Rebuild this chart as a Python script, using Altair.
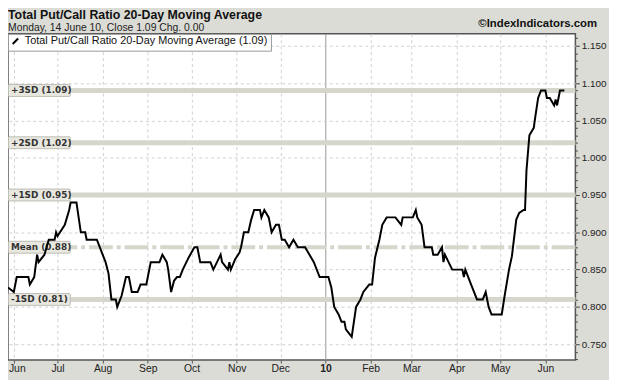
import altair as alt
import pandas as pd

# ---------------- data ----------------
dates = [
    "2009-05-28", "2009-06-01", "2009-06-03", "2009-06-11", "2009-06-12", "2009-06-15", "2009-06-17", "2009-06-18", "2009-06-22", "2009-06-25",
    "2009-06-29", "2009-06-30", "2009-07-01", "2009-07-06", "2009-07-09", "2009-07-10", "2009-07-14", "2009-07-17", "2009-07-20", "2009-07-21",
    "2009-07-28", "2009-07-30", "2009-08-03", "2009-08-05", "2009-08-07", "2009-08-10", "2009-08-11", "2009-08-14", "2009-08-17", "2009-08-19",
    "2009-08-21", "2009-08-25", "2009-08-27", "2009-08-31", "2009-09-03", "2009-09-09", "2009-09-11", "2009-09-14", "2009-09-15", "2009-09-17",
    "2009-09-19", "2009-09-21", "2009-09-23", "2009-09-25", "2009-09-29", "2009-10-03", "2009-10-05", "2009-10-07", "2009-10-14", "2009-10-16",
    "2009-10-21", "2009-10-22", "2009-10-26", "2009-10-27", "2009-10-28", "2009-10-31", "2009-11-03", "2009-11-04", "2009-11-06", "2009-11-09",
    "2009-11-11", "2009-11-13", "2009-11-17", "2009-11-18", "2009-11-20", "2009-11-23", "2009-11-25", "2009-11-28", "2009-11-30", "2009-12-02",
    "2009-12-04", "2009-12-07", "2009-12-10", "2009-12-13", "2009-12-18", "2009-12-21", "2009-12-24", "2009-12-28", "2010-01-03", "2010-01-05",
    "2010-01-07", "2010-01-10", "2010-01-12", "2010-01-14", "2010-01-15", "2010-01-19", "2010-01-22", "2010-01-25", "2010-01-27", "2010-01-31",
    "2010-02-02", "2010-02-04", "2010-02-07", "2010-02-09", "2010-02-12", "2010-02-18", "2010-02-22", "2010-02-23", "2010-03-02", "2010-03-04",
    "2010-03-05", "2010-03-08", "2010-03-10", "2010-03-15", "2010-03-16", "2010-03-19", "2010-03-22", "2010-03-23", "2010-03-24", "2010-03-29",
    "2010-04-05", "2010-04-06", "2010-04-07", "2010-04-11", "2010-04-15", "2010-04-19", "2010-04-21", "2010-04-22", "2010-04-23", "2010-04-25",
    "2010-05-02", "2010-05-04", "2010-05-07", "2010-05-09", "2010-05-12", "2010-05-14", "2010-05-17", "2010-05-18", "2010-05-19", "2010-05-21",
    "2010-05-24", "2010-05-25", "2010-05-26", "2010-05-27", "2010-05-29", "2010-06-01", "2010-06-02", "2010-06-04", "2010-06-07", "2010-06-08",
    "2010-06-09", "2010-06-10", "2010-06-11", "2010-06-14",
]
values = [
    0.826, 0.82, 0.84, 0.84, 0.83, 0.84, 0.87, 0.86, 0.87, 0.89,
    0.89, 0.90, 0.895, 0.91, 0.93, 0.94, 0.94, 0.90, 0.90, 0.89,
    0.89, 0.88, 0.86, 0.845, 0.81, 0.81, 0.80, 0.815, 0.84, 0.84,
    0.82, 0.82, 0.83, 0.83, 0.86, 0.86, 0.87, 0.86, 0.85, 0.82,
    0.835, 0.84, 0.84, 0.85, 0.866, 0.88, 0.88, 0.86, 0.86, 0.85,
    0.87, 0.86, 0.85, 0.86, 0.85, 0.864, 0.873, 0.88, 0.90, 0.90,
    0.917, 0.93, 0.93, 0.92, 0.93, 0.92, 0.90, 0.91, 0.91, 0.89,
    0.89, 0.88, 0.89, 0.88, 0.88, 0.87, 0.86, 0.84, 0.84, 0.826,
    0.80, 0.79, 0.78, 0.78, 0.77, 0.76, 0.80, 0.81, 0.82, 0.83,
    0.83, 0.866, 0.89, 0.91, 0.92, 0.92, 0.91, 0.92, 0.92, 0.93,
    0.92, 0.91, 0.88, 0.88, 0.87, 0.87, 0.88, 0.86, 0.87, 0.85,
    0.85, 0.84, 0.85, 0.83, 0.81, 0.81, 0.82, 0.81, 0.80, 0.79,
    0.79, 0.815, 0.85, 0.868, 0.917, 0.926, 0.93, 0.93, 0.983, 1.03,
    1.04, 1.054, 1.067, 1.08, 1.09, 1.09, 1.08, 1.08, 1.07, 1.078,
    1.07, 1.08, 1.09, 1.09,
]
series_name = "Total Put/Call Ratio 20-Day Moving Average (1.09)"

band_values = [1.09, 1.02, 0.95, 0.81]
mean_value = [0.88]
label_values = [1.09, 1.02, 0.95, 0.88, 0.81]
label_texts = ["+3SD (1.09)", "+2SD (1.02)", "+1SD (0.95)", "Mean (0.88)", "-1SD (0.81)"]

title_text = "Total Put/Call Ratio 20-Day Moving Average"
subtitle_text = "Monday, 14 June 10, Close 1.09  Chg. 0.00"
credit_text = "\u00a9IndexIndicators.com"

y_ticks = [round(0.73 + 0.01 * i, 2) for i in range(44)]
y_domain = [0.7288, 1.1659]
month_ticks = [(2009, m) for m in range(6, 13)] + [(2010, m) for m in range(1, 7)]

# ---------------- chart ----------------
W, H = 574, 330
FONT = "Liberation Sans"

line_df = pd.DataFrame({"date": dates, "value": values, "series": series_name})
band_df = pd.DataFrame({"value": band_values})
mean_df = pd.DataFrame({"value": mean_value})
label_df = pd.DataFrame({"value": label_values, "label": label_texts})
one = pd.DataFrame({"k": [0]})

x_scale = alt.Scale(
    type="utc",
    domain=[alt.DateTime(year=2009, month=5, date=28, utc=True),
            alt.DateTime(year=2010, month=6, date=21, hours=14, utc=True)],
)
y_scale = alt.Scale(domain=y_domain, zero=False, nice=False)

is_jan = "utcmonth(datum.value) == 0"
is_first = "utcyear(datum.value) == 2009 && utcmonth(datum.value) == 5"
is_major = "round(datum.value * 100) % 5 == 0"

x_axis = alt.Axis(
    values=[alt.DateTime(year=y, month=m, date=1, utc=True) for y, m in month_ticks],
    labelExpr="utcmonth(datum.value) == 0 ? utcFormat(datum.value, '%y') : utcFormat(datum.value, '%b')",
    labelFontWeight={"condition": {"test": is_jan, "value": "bold"}, "value": "normal"},
    labelOffset={"condition": {"test": is_first, "value": 3}, "value": 0},
    gridDash={"condition": {"test": is_jan, "value": []}, "value": [3, 3]},
    gridColor={"condition": {"test": is_jan, "value": "#9a9a9a"}, "value": "#cfcfcf"},
    grid=True, domain=False, tickSize=3, tickColor="#555555",
    labelFont=FONT, labelFontSize=10.5, labelColor="#222222", labelPadding=1,
    labelFlush=False, labelOverlap=False, title=None,
)
y_axis = alt.Axis(
    orient="right", values=y_ticks,
    labelExpr=f"{is_major} ? format(datum.value, '.3f') : ''",
    tickSize={"condition": {"test": is_major, "value": 4}, "value": 2},
    gridOpacity={"condition": {"test": is_major, "value": 1}, "value": 0},
    grid=True, gridDash=[3, 3], gridColor="#cfcfcf",
    domain=False, tickColor="#444444",
    labelFont=FONT, labelFontSize=10, labelColor="#222222", labelPadding=2,
    labelOverlap=False, title=None,
)


def yenc():
    return alt.Y("value:Q", scale=y_scale, axis=y_axis)


bands = alt.Chart(band_df).mark_rule(color="#d6d6cc", strokeWidth=5).encode(y=yenc())
mean_line = alt.Chart(mean_df).mark_rule(
    color="#d6d6cc", strokeWidth=4, strokeDash=[24, 4, 4, 4]
).encode(y=yenc())

box = alt.Chart(label_df).mark_rect(
    fill="#e8e8e0", stroke="#bdbdb5", strokeWidth=1, yOffset=-6, y2Offset=6, cornerRadius=1
).encode(
    y=yenc(), y2=alt.Y2("value:Q"), x=alt.value(0.5), x2=alt.value(63)
)
box_text = alt.Chart(label_df).mark_text(
    align="left", baseline="middle", font="DejaVu Sans", fontSize=9, fontWeight="bold", color="#333333"
).encode(y=yenc(), x=alt.value(3), text="label:N")

line = alt.Chart(line_df).mark_line(strokeWidth=2).encode(
    x=alt.X("date:T", scale=x_scale, axis=x_axis),
    y=yenc(),
    color=alt.Color(
        "series:N",
        scale=alt.Scale(range=["#000000"]),
        legend=alt.Legend(
            orient="top-left", offset=0, padding=2, title=None,
            fillColor="white", strokeColor="#999999",
            symbolType="M-1,1L1,-1", symbolStrokeWidth=2, symbolSize=30,
            labelFont=FONT, labelFontSize=11, labelColor="#111111", labelLimit=400,
        ),
    ),
)

title_mark = alt.Chart(one).mark_text(
    align="left", baseline="alphabetic", font=FONT, fontSize=12.5, fontWeight="bold", color="#111111"
).encode(x=alt.value(0), y=alt.value(-15), text=alt.value(title_text))
subtitle_mark = alt.Chart(one).mark_text(
    align="left", baseline="alphabetic", font=FONT, fontSize=10.5, color="#222222"
).encode(x=alt.value(0), y=alt.value(-3), text=alt.value(subtitle_text))
credit_mark = alt.Chart(one).mark_text(
    align="right", baseline="alphabetic", font=FONT, fontSize=11.5, fontWeight="bold", color="#111111"
).encode(x=alt.value(596), y=alt.value(-7), text=alt.value(credit_text))

chart = alt.layer(
    bands, mean_line, box, box_text, line,
    title_mark, subtitle_mark, credit_mark,
).properties(
    width=W, height=H,
    autosize=alt.AutoSizeParams(type="none"),
    padding={"left": 0, "top": 24, "right": 34, "bottom": 18},
    background="#dcdcd6",
).configure_view(fill="white", stroke="#555555", strokeWidth=1.5)

chart.save("out.html", embed_options={"renderer": "svg", "actions": False})
